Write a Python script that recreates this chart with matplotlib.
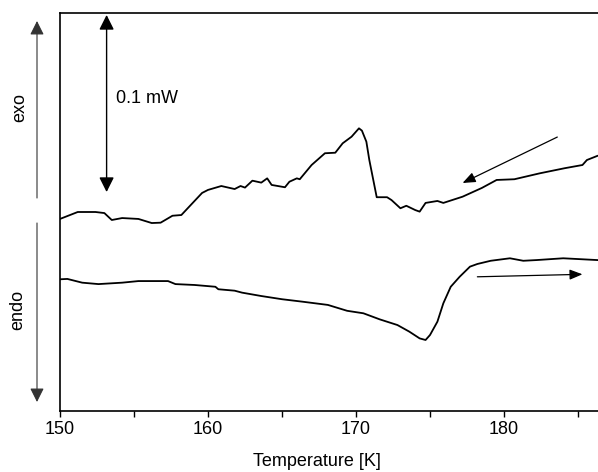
"""DSC cooling / heating traces around the 170-175 K transition."""
import matplotlib
matplotlib.use('Agg')
import matplotlib.pyplot as plt
import numpy as np

plt.rcParams['font.family'] = ['Liberation Sans', 'DejaVu Sans']

# cooling run (upper trace): temperature [K], heat flow [uW, arbitrary offset]
cool_T = [150.0, 151.2, 152.4, 153.0, 153.5, 154.2, 155.3, 156.2, 156.8, 157.6,
          158.2, 158.9, 159.6, 160.0, 160.9, 161.8, 162.2, 162.5, 163.0, 163.6,
          164.0, 164.3, 165.2, 165.5, 166.0, 166.2, 167.0, 167.9, 168.6, 169.1,
          169.7, 170.2, 170.4, 170.7, 170.9, 171.4, 172.1, 172.4, 173.0, 173.4,
          174.0, 174.3, 174.7, 175.5, 175.9, 177.2, 178.5, 179.5, 180.7, 182.4,
          184.1, 185.3, 185.6, 186.3]
cool_q = [107.9, 111.8, 111.8, 111.2, 107.3, 108.4, 107.9, 105.6, 105.8, 109.7,
          110.1, 116.3, 122.5, 124.2, 126.4, 124.7, 126.4, 125.5, 129.4, 128.3,
          130.7, 127.0, 125.7, 128.8, 130.7, 130.2, 138.2, 144.8, 145.1, 150.4,
          154.1, 158.8, 157.5, 151.3, 141.0, 120.1, 120.1, 118.5, 113.9, 115.3,
          112.9, 112.0, 116.9, 118.0, 116.9, 120.4, 125.3, 129.8, 130.2, 133.5,
          136.4, 138.2, 141.0, 143.3]

# heating run (lower trace)
heat_T = [150.0, 150.5, 151.5, 152.6, 154.2, 155.3, 157.3, 157.8, 159.1, 160.5,
          160.7, 161.8, 162.3, 163.6, 165.0, 166.4, 168.1, 169.4, 170.5, 171.6,
          172.8, 173.6, 174.3, 174.7, 175.0, 175.5, 175.9, 176.4, 177.0, 177.7,
          178.2, 179.1, 180.4, 181.3, 182.2, 184.0, 186.3]
heat_q = [74.0, 74.2, 72.1, 71.3, 72.1, 73.0, 73.0, 71.3, 70.8, 69.8,
          68.4, 67.6, 66.5, 64.6, 62.8, 61.4, 59.6, 56.3, 54.9, 51.5,
          48.3, 44.6, 40.8, 39.9, 42.7, 50.2, 60.5, 69.8, 75.4, 81.1,
          82.6, 84.4, 85.8, 84.4, 84.8, 85.8, 84.8]

x_ticks = [150, 160, 170, 180]

FS = 13

fig = plt.figure(figsize=(5.98, 4.72), dpi=100, facecolor='white')
ax = fig.add_axes([0.1003, 0.1292, 0.8997, 0.8433])

ax.plot(cool_T, cool_q, color='black', linewidth=1.3)
ax.plot(heat_T, heat_q, color='black', linewidth=1.3)

ax.set_xlim(150, 186.35)
ax.set_ylim(0, 223.6)
ax.set_xticks(x_ticks)
ax.set_xticks([155, 165, 175, 185], minor=True)
ax.tick_params(axis='x', which='both', direction='out', length=4, width=1.0,
               labelsize=FS, pad=3)
ax.set_yticks([])
ax.spines['right'].set_visible(False)
for s in ['left', 'bottom', 'top']:
    ax.spines[s].set_linewidth(1.2)

# 0.1 mW scale bar
ax.annotate('', xy=(153.15, 222.5), xytext=(153.15, 123.0),
            arrowprops=dict(arrowstyle='<|-|>,head_length=0.6,head_width=0.3',
                            color='black', lw=1.0, mutation_scale=15,
                            shrinkA=0, shrinkB=0))
ax.text(153.8, 175.8, '0.1 mW', fontsize=FS, va='center', ha='left')

# scan direction arrows
ax.annotate('', xy=(177.2, 128.1), xytext=(183.6, 153.9),
            arrowprops=dict(arrowstyle='-|>,head_length=0.55,head_width=0.22',
                            color='black', lw=0.9, mutation_scale=14,
                            shrinkA=0, shrinkB=0))
ax.annotate('', xy=(185.3, 76.8), xytext=(178.2, 75.4),
            arrowprops=dict(arrowstyle='-|>,head_length=0.55,head_width=0.22',
                            color='black', lw=0.9, mutation_scale=14,
                            shrinkA=0, shrinkB=0))

# exo / endo arrows in the left margin (figure pixels, origin bottom-left)
H = 472
fig_arrow = dict(color='#333333', lw=0.8, mutation_scale=14, shrinkA=0, shrinkB=0)
ax.annotate('', xy=(37, H - 21), xytext=(37, H - 198), xycoords='figure pixels',
            textcoords='figure pixels',
            arrowprops=dict(arrowstyle='-|>,head_length=0.6,head_width=0.3', **fig_arrow),
            annotation_clip=False)
ax.annotate('', xy=(37, H - 402), xytext=(37, H - 223), xycoords='figure pixels',
            textcoords='figure pixels',
            arrowprops=dict(arrowstyle='-|>,head_length=0.6,head_width=0.3', **fig_arrow),
            annotation_clip=False)
fig.text(20 / 598, 1 - 108 / H, 'exo', rotation=90, fontsize=FS,
         ha='center', va='center')
fig.text(18 / 598, 1 - 310 / H, 'endo', rotation=90, fontsize=FS,
         ha='center', va='center')

fig.text(317 / 598, 1 - 462 / H, 'Temperature [K]', fontsize=FS,
         ha='center', va='center')

fig.savefig('out.png', dpi=100, facecolor='white')
